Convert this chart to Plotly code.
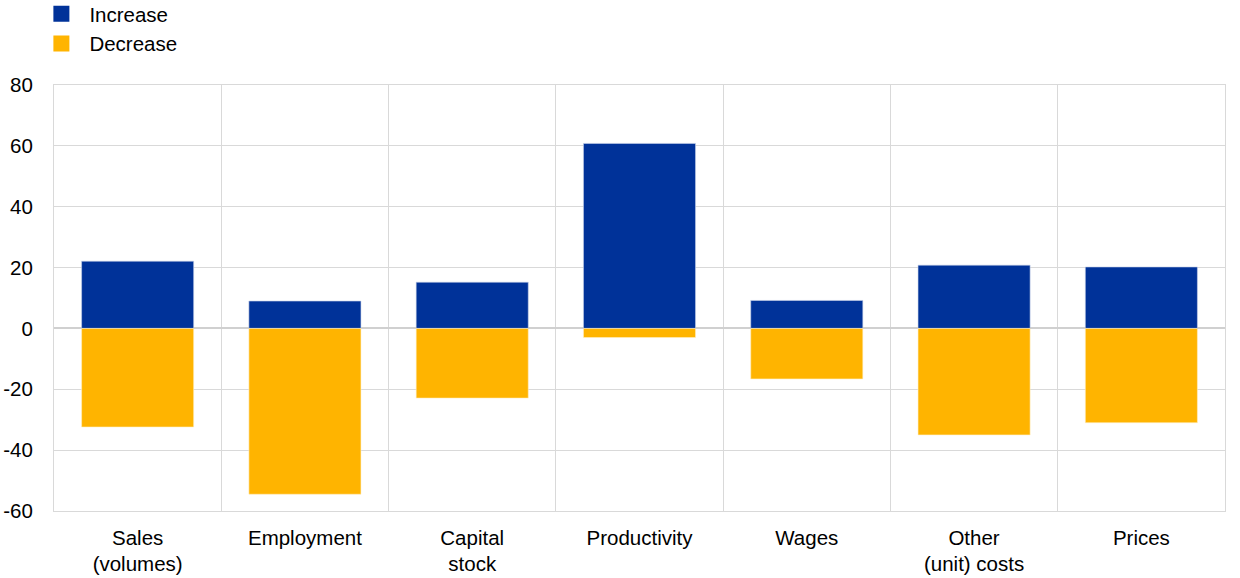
import plotly.graph_objects as go

categories = ["Sales<br>(volumes)", "Employment", "Capital<br>stock", "Productivity",
              "Wages", "Other<br>(unit) costs", "Prices"]
increase = [22.1, 9.0, 15.2, 60.8, 9.2, 20.8, 20.2]
decrease = [-32.4, -54.5, -22.9, -3.0, -16.6, -35.0, -31.0]
y_ticks = [-60, -40, -20, 0, 20, 40, 60, 80]
y_tick_labels = [str(v) for v in y_ticks]

BLUE = "#003299"
YELLOW = "#FFB400"

fig = go.Figure()
fig.add_trace(go.Bar(x=categories, y=increase, name="Increase", showlegend=False,
                     marker=dict(color=BLUE, line=dict(color="#c9d4ea", width=0.6)),
                     width=0.67))
fig.add_trace(go.Bar(x=categories, y=decrease, name="Decrease", showlegend=False,
                     marker=dict(color=YELLOW, line=dict(color="#fff0c8", width=0.6)),
                     width=0.67))
# legend entries with larger square symbols
fig.add_trace(go.Scatter(x=[None], y=[None], mode="markers", name="Increase",
                         marker=dict(symbol="square", size=16, color=BLUE)))
fig.add_trace(go.Scatter(x=[None], y=[None], mode="markers", name="Decrease",
                         marker=dict(symbol="square", size=16, color=YELLOW)))

fig.update_layout(
    width=1240, height=578,
    barmode="relative",
    paper_bgcolor="white", plot_bgcolor="white",
    font=dict(family="Liberation Sans, Arial, sans-serif", size=20.5, color="black"),
    margin=dict(l=54, r=15, t=85, b=67, autoexpand=False),
    legend=dict(x=-0.0176, y=1.2136,
                xanchor="left", yanchor="top",
                orientation="v", font=dict(size=20.5), tracegroupgap=0,
                bgcolor="rgba(0,0,0,0)", itemsizing="trace", itemwidth=46),
    showlegend=True,
)
fig.update_xaxes(type="category", tickson="boundaries", showgrid=True,
                 gridcolor="#d9d9d9", gridwidth=1, ticks="", showline=True,
                 linecolor="#d9d9d9", mirror=True, ticklabelstandoff=8,
                 automargin=False)
fig.update_yaxes(range=[-60, 80], tickvals=y_ticks, ticktext=y_tick_labels,
                 showgrid=True,
                 gridcolor="#d9d9d9", gridwidth=1, zeroline=True,
                 zerolinecolor="#d0d0d0", zerolinewidth=2, showline=True,
                 linecolor="#d9d9d9", mirror=True, ticks="", ticklabelstandoff=16,
                 automargin=False)

fig.write_html("out.html", config={"displayModeBar": False},
               post_script="document.body.style.margin='0';document.body.style.overflow='hidden';")
